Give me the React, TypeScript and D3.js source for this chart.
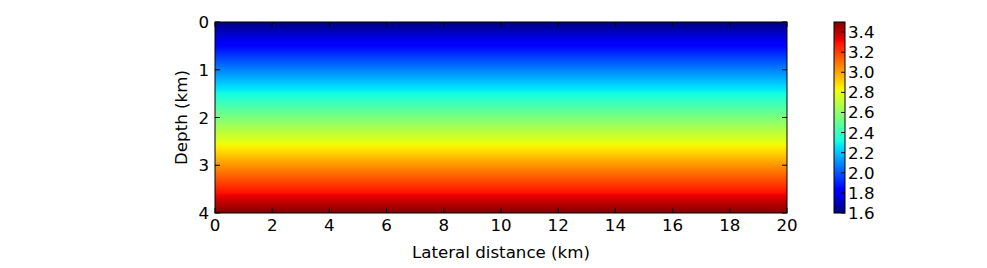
import React from 'react'
import * as d3 from 'd3'

const lateralTicks = [0, 2, 4, 6, 8, 10, 12, 14, 16, 18, 20]
const depthTicks = [0, 1, 2, 3, 4]
const colorbarTicks = [1.6, 1.8, 2.0, 2.2, 2.4, 2.6, 2.8, 3.0, 3.2, 3.4]

// velocity profile (km depth -> value)
const profileDepth = [0, 0.5, 1, 1.5, 2, 2.5, 3, 3.5, 4]
const profileVelocity = [1.6, 1.84, 2.08, 2.31, 2.55, 2.79, 3.03, 3.26, 3.5]

const vmin = 1.6
const vmax = 3.5

// matplotlib jet segment data
const jetR = d3.scaleLinear([0, 0.35, 0.66, 0.89, 1], [0, 0, 1, 1, 0.5]).clamp(true)
const jetG = d3.scaleLinear([0, 0.125, 0.375, 0.64, 0.91, 1], [0, 0, 1, 1, 0, 0]).clamp(true)
const jetB = d3.scaleLinear([0, 0.11, 0.34, 0.65, 1], [0.5, 1, 1, 0, 0]).clamp(true)
const jet = (t: number) =>
  d3.rgb(jetR(t) * 255, jetG(t) * 255, jetB(t) * 255).formatHex()

const font = 'DejaVu Sans, sans-serif'
const fs = 16.67

export default function App () {
  const margin = { left: 215, top: 22 }
  const width = 572
  const height = 191
  const x = d3.scaleLinear().domain([0, 20]).range([margin.left, margin.left + width])
  const y = d3.scaleLinear().domain([0, 4]).range([margin.top, margin.top + height])
  const velocity = d3.scaleLinear().domain(profileDepth).range(profileVelocity)
  const norm = d3.scaleLinear().domain([vmin, vmax]).range([0, 1]).clamp(true)

  const cbLeft = 834
  const cbWidth = 11
  const cb = d3.scaleLinear().domain([vmin, vmax]).range([margin.top + height, margin.top])

  const rows = d3.range(margin.top, margin.top + height, 1)
  const tick = 5

  return (
    <svg width={987} height={268} style={{ position: 'absolute', left: 0, top: 0, background: '#fff' }}>
      {rows.map(py => (
        <rect key={'r' + py} x={margin.left} y={py} width={width} height={1.05}
          fill={jet(norm(velocity(y.invert(py + 0.5))))} />
      ))}
      <rect x={margin.left} y={margin.top} width={width} height={height}
        fill="none" stroke="#000" strokeWidth={1} />
      {lateralTicks.map(t => (
        <g key={'x' + t}>
          <line x1={x(t)} x2={x(t)} y1={margin.top + height} y2={margin.top + height - tick} stroke="#000" />
          <line x1={x(t)} x2={x(t)} y1={margin.top} y2={margin.top + tick} stroke="#000" />
          <text x={x(t)} y={231} textAnchor="middle" fontFamily={font} fontSize={fs}>{t}</text>
        </g>
      ))}
      {depthTicks.map(t => (
        <g key={'y' + t}>
          <line x1={margin.left} x2={margin.left + tick} y1={y(t)} y2={y(t)} stroke="#000" />
          <line x1={margin.left + width} x2={margin.left + width - tick} y1={y(t)} y2={y(t)} stroke="#000" />
          <text x={209} y={y(t)} dy="0.36em" textAnchor="end" fontFamily={font} fontSize={fs}>{t}</text>
        </g>
      ))}
      <text x={margin.left + width / 2} y={258} textAnchor="middle" fontFamily={font} fontSize={fs}>
        Lateral distance (km)
      </text>
      <text transform={`translate(187,${margin.top + height / 2}) rotate(-90)`} textAnchor="middle"
        fontFamily={font} fontSize={fs}>Depth (km)</text>

      {rows.map(py => (
        <rect key={'c' + py} x={cbLeft} y={py} width={cbWidth} height={1.05}
          fill={jet(norm(cb.invert(py + 0.5)))} />
      ))}
      <rect x={cbLeft} y={margin.top} width={cbWidth} height={height}
        fill="none" stroke="#000" strokeWidth={1} />
      {colorbarTicks.map(t => (
        <g key={'c' + t}>
          <line x1={cbLeft + cbWidth} x2={cbLeft + cbWidth - 4} y1={cb(t)} y2={cb(t)} stroke="#000" />
          <text x={848} y={cb(t)} dy="0.36em" fontFamily={font} fontSize={fs}>{t.toFixed(1)}</text>
        </g>
      ))}
    </svg>
  )
}
